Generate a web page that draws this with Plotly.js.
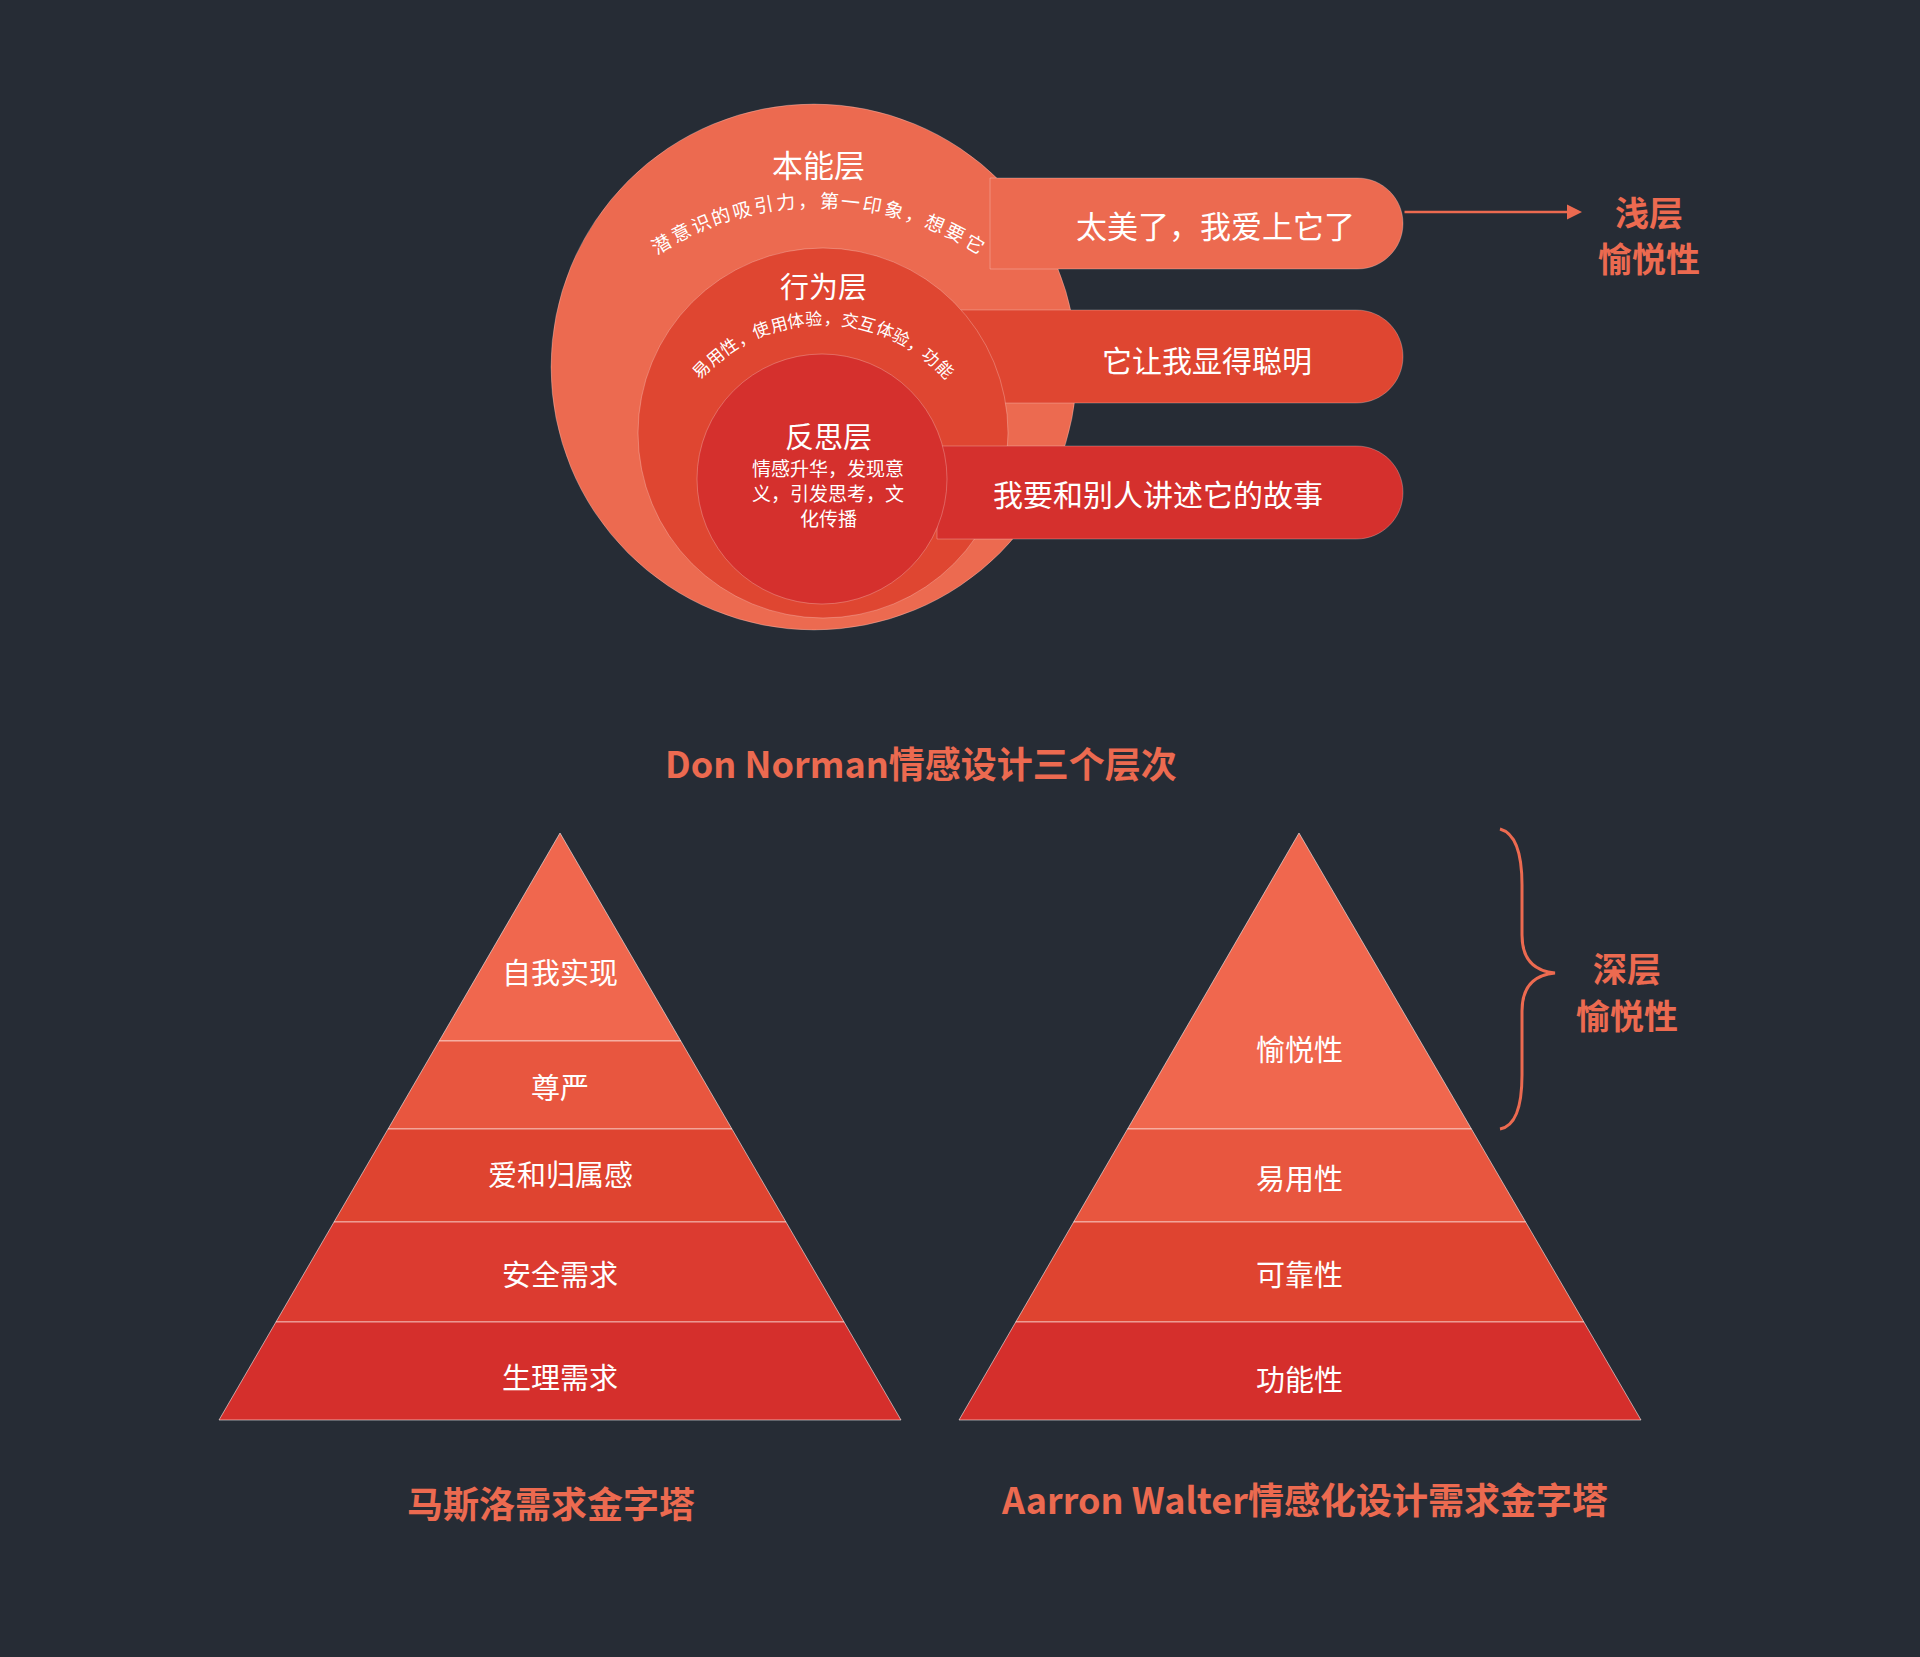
<!DOCTYPE html>
<html><head><meta charset="utf-8">
<script src="https://cdn.plot.ly/plotly-3.0.1.min.js"></script>
<style>html,body{margin:0;padding:0;background:#262C35;}</style>
</head><body><div id="chart" style="width:1920px;height:1657px;"></div>
<script>
// ---- data ----
const layerTitles = ["本能层", "行为层", "反思层"];
const layerArcTexts = ["潜意识的吸引力，第一印象，想要它", "易用性，使用体验，交互体验，功能"];
const reflectiveLines = ["情感升华，发现意", "义，引发思考，文", "化传播"];
const barTexts = ["太美了，我爱上它了", "它让我显得聪明", "我要和别人讲述它的故事"];
const shallowLabel = ["浅层", "愉悦性"];
const deepLabel = ["深层", "愉悦性"];
const topTitle = "Don Norman情感设计三个层次";
const maslowLevels = ["自我实现", "尊严", "爱和归属感", "安全需求", "生理需求"];
const maslowTitle = "马斯洛需求金字塔";
const walterLevels = ["愉悦性", "易用性", "可靠性", "功能性"];
const walterTitle = "Aarron Walter情感化设计需求金字塔";

// ---- styling / geometry ----
const C1 = "#EC6A50", C2 = "#DF4631", C3 = "#D5302D";
const pyrColors5 = ["#F0674E", "#E8563F", "#DF4430", "#DC3B30", "#D52F2C"];
const pyrColors4 = ["#F0674E", "#E8563F", "#DF4430", "#D52F2C"];
const F = "Noto Sans CJK SC, Noto Sans, sans-serif";
const shapes = [], ann = [];

function circle(cx, cy, r, col) {
  shapes.push({type: "circle", xref: "x", yref: "y", x0: cx - r, x1: cx + r, y0: cy - r, y1: cy + r,
    fillcolor: col, line: {color: "rgba(255,255,255,0.25)", width: 1}, layer: "above"});
}
function bar(x0, x1, y0, y1, col) {
  const r = (y1 - y0) / 2, ym = (y0 + y1) / 2, k = 0.552 * r;
  const p = `M${x0},${y0} L${x1 - r},${y0} C${x1 - r + k},${y0} ${x1},${ym - k} ${x1},${ym} C${x1},${ym + k} ${x1 - r + k},${y1} ${x1 - r},${y1} L${x0},${y1} Z`;
  shapes.push({type: "path", path: p, fillcolor: col, line: {color: "rgba(255,255,255,0.25)", width: 1}, layer: "above"});
}
function txt(x, y, t, size, opts) {
  ann.push(Object.assign({x: x, y: y, xref: "x", yref: "y", text: t, showarrow: false,
    font: {family: F, size: size, color: "#fff"}, xanchor: "center", yanchor: "middle"}, opts || {}));
}
function arcText(cx, cy, R, str, a0, a1, size) {
  const chars = Array.from(str), n = chars.length;
  chars.forEach((ch, i) => {
    const a = (a0 + (a1 - a0) * i / (n - 1)) * Math.PI / 180;
    txt(cx + R * Math.sin(a), cy - R * Math.cos(a), ch, size, {textangle: a * 180 / Math.PI});
  });
}

// Don Norman diagram
circle(814, 367, 263, C1);
bar(990, 1403, 178, 269, C1);
bar(955, 1403, 310, 403, C2);
circle(823, 433, 185, C2);
bar(937, 1403, 446, 539, C3);
circle(822, 479, 125, C3);

txt(818, 163, layerTitles[0], 31);
arcText(818, 504, 305, layerArcTexts[0], -31, 31, 19);
txt(823, 285, layerTitles[1], 29);
arcText(823, 487, 170, layerArcTexts[1], -46, 46, 17);
txt(828, 435, layerTitles[2], 29);
reflectiveLines.forEach((l, i) => txt(828, 467 + i * 25, l, 19));
txt(1215, 224, barTexts[0], 31);
txt(1207, 359, barTexts[1], 30);
txt(1158, 493, barTexts[2], 30);

ann.push({x: 1582, y: 212, ax: 1403, ay: 212, xref: "x", yref: "y", axref: "x", ayref: "y", text: "",
  showarrow: true, arrowhead: 2, arrowsize: 1.2, arrowwidth: 2.5, arrowcolor: C1});
txt(1649, 211, "<b>" + shallowLabel[0] + "</b>", 34, {font: {family: F, size: 34, color: C1}});
txt(1649, 257, "<b>" + shallowLabel[1] + "</b>", 34, {font: {family: F, size: 34, color: C1}});
txt(921, 762, "<b>" + topTitle + "</b>", 36, {font: {family: F, size: 36, color: C1}});

// pyramids
function pyramid(ax, ay, bl, br, by, bounds, labels, labelY, colors) {
  const ys = [ay].concat(bounds).concat([by]);
  const xl = y => ax + (bl - ax) * (y - ay) / (by - ay);
  const xr = y => ax + (br - ax) * (y - ay) / (by - ay);
  for (let i = 0; i < labels.length; i++) {
    const y0 = ys[i], y1 = ys[i + 1];
    const p = `M${xl(y0)},${y0} L${xr(y0)},${y0} L${xr(y1)},${y1} L${xl(y1)},${y1} Z`;
    shapes.push({type: "path", path: p, fillcolor: colors[i], line: {color: "rgba(255,255,255,0.55)", width: 1}});
    txt(ax, labelY[i], labels[i], 29);
  }
}
pyramid(560, 833, 219, 901, 1420, [1041, 1129, 1222, 1322], maslowLevels, [971, 1086, 1173, 1273, 1376], pyrColors5);
pyramid(1299, 833, 959, 1641, 1420, [1129, 1222, 1322], walterLevels, [1048, 1177, 1273, 1378], pyrColors4);

shapes.push({type: "path", path: "M1500,829 Q1522,835 1522,885 L1522,935 Q1522,970 1555,973 Q1522,976 1522,1011 L1522,1075 Q1522,1125 1500,1129",
  line: {color: C1, width: 3}});
txt(1627, 967, "<b>" + deepLabel[0] + "</b>", 34, {font: {family: F, size: 34, color: C1}});
txt(1627, 1014, "<b>" + deepLabel[1] + "</b>", 34, {font: {family: F, size: 34, color: C1}});
txt(551, 1502, "<b>" + maslowTitle + "</b>", 36, {font: {family: F, size: 36, color: C1}});
txt(1304, 1498, "<b>" + walterTitle + "</b>", 36, {font: {family: F, size: 36, color: C1}});

Plotly.newPlot("chart", [{x: [0], y: [0], mode: "markers", marker: {opacity: 0}, hoverinfo: "skip"}], {
  width: 1920, height: 1657, margin: {l: 0, r: 0, t: 0, b: 0},
  paper_bgcolor: "#262C35", plot_bgcolor: "#262C35", showlegend: false,
  xaxis: {range: [0, 1920], visible: false, fixedrange: true},
  yaxis: {range: [1657, 0], visible: false, fixedrange: true},
  shapes: shapes, annotations: ann
}, {staticPlot: true});
</script></body></html>
